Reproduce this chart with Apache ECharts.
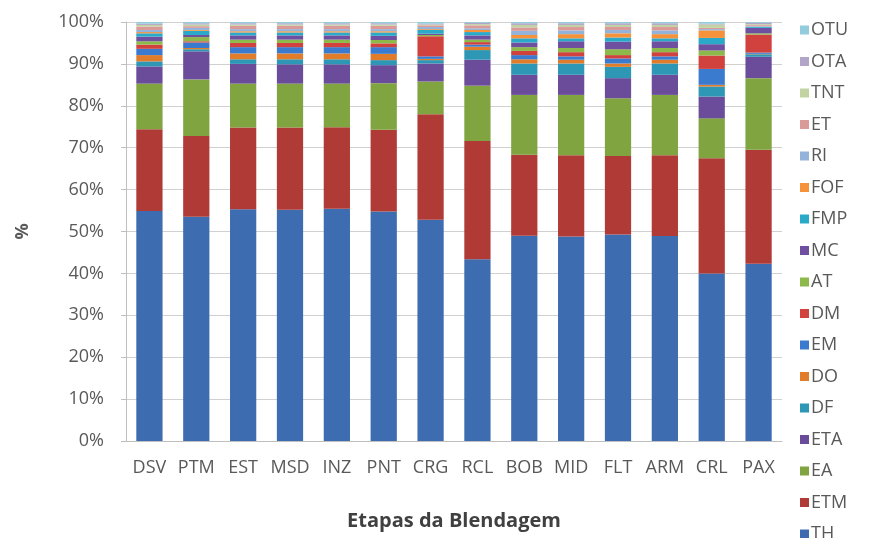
<!DOCTYPE html>
<html>
<head>
<meta charset="utf-8">
<script src="https://cdn.jsdelivr.net/npm/echarts@6/dist/echarts.min.js"></script>
<style>html,body{margin:0;padding:0;background:#fff}#c{width:876px;height:538px}</style>
</head>
<body>
<div id="c"></div>
<script>
const categories = ['DSV','PTM','EST','MSD','INZ','PNT','CRG','RCL','BOB','MID','FLT','ARM','CRL','PAX'];
const yTicks = [0,10,20,30,40,50,60,70,80,90,100];
// Series values in % (stack order bottom -> top)
const TH  = [54.9,53.5,55.3,55.2,55.4,54.8,52.8,43.4,49.0,48.8,49.3,48.9,40.0,42.3];
const ETM = [19.5,19.3,19.5,19.6,19.5,19.5,25.2,28.2,19.3,19.4,18.7,19.3,27.5,27.2];
const EA  = [10.9,13.5,10.5,10.5,10.4,11.1, 7.8,13.2,14.3,14.4,13.8,14.4, 9.5,17.1];
const ETA = [ 4.1, 6.7, 4.7, 4.6, 4.6, 4.3, 4.3, 6.2, 4.8, 4.8, 4.8, 4.8, 5.2, 5.1];
const DF  = [ 1.2, 0.5, 1.1, 1.2, 1.2, 1.2, 0.8, 2.3, 2.7, 2.7, 2.7, 2.7, 2.4, 0.6];
const DO  = [ 1.5, 0.3, 1.4, 1.4, 1.4, 1.5, 0.3, 0.8, 1.0, 0.9, 0.8, 0.9, 0.4, 0.1];
const EM  = [ 1.5, 1.3, 1.5, 1.5, 1.5, 1.6, 0.6, 0.5, 1.0, 0.8, 1.2, 0.8, 3.8, 0.3];
const DM  = [ 1.0, 0.3, 1.0, 1.0, 1.0, 0.9, 4.8, 0.6, 1.0, 1.0, 0.8, 1.0, 3.2, 4.3];
const AT  = [ 0.8, 1.0, 0.8, 0.8, 0.8, 0.8, 0.3, 0.6, 0.9, 1.0, 1.4, 1.0, 1.2, 0.3];
const MC  = [ 1.1, 0.5, 1.0, 1.0, 1.0, 1.0, 0.3, 1.0, 1.1, 1.6, 1.8, 1.6, 1.5, 1.3];
const FMP = [ 0.8, 1.0, 0.7, 0.7, 0.7, 0.8, 0.9, 0.8, 1.0, 0.7, 1.0, 0.7, 1.5, 0.2];
const FOF = [ 0.3, 0.2, 0.3, 0.3, 0.3, 0.3, 0.2, 0.5, 0.8, 1.0, 1.0, 1.0, 1.8, 0.1];
const RI  = [ 0.5, 0.5, 0.5, 0.5, 0.5, 0.5, 0.5, 0.4, 1.0, 0.9, 0.8, 0.9, 0.3, 0.2];
const ET  = [ 0.8, 0.4, 0.8, 0.8, 0.8, 0.8, 0.4, 0.7, 0.8, 0.8, 0.7, 0.8, 0.3, 0.2];
const TNT = [ 0.4, 0.4, 0.3, 0.3, 0.3, 0.3, 0.2, 0.3, 0.6, 0.5, 0.5, 0.5, 0.8, 0.2];
const OTA = [ 0.3, 0.3, 0.3, 0.3, 0.3, 0.3, 0.2, 0.3, 0.4, 0.4, 0.4, 0.4, 0.2, 0.3];
const OTU = [ 0.4, 0.3, 0.3, 0.3, 0.3, 0.3, 0.4, 0.2, 0.3, 0.3, 0.3, 0.3, 0.4, 0.2];

const seriesNames = ['TH','ETM','EA','ETA','DF','DO','EM','DM','AT','MC','FMP','FOF','RI','ET','TNT','OTA','OTU'];
const seriesData = [TH,ETM,EA,ETA,DF,DO,EM,DM,AT,MC,FMP,FOF,RI,ET,TNT,OTA,OTU];
const colors = ['#3D6DB0','#B03A36','#80A440','#6B4C9A','#2E97B5','#E07C2A','#3B7BCF','#D1423E',
                '#8DB84A','#6E4FA0','#2BA9C9','#F5923A','#94B3DA','#D99A98','#C2D3A3','#B3A5C8','#93CDDD'];

const FONT = 'Open Sans';
const chart = echarts.init(document.getElementById('c'), null, {renderer:'canvas'});
chart.setOption({
  animation: false,
  backgroundColor: '#fff',
  color: colors,
  grid: {left: 126, right: 94, top: 22, bottom: 97},
  legend: {
    orient: 'vertical', left: 795, top: 16, height: 600,
    data: seriesNames.slice().reverse(),
    icon: 'rect', itemWidth: 9, itemHeight: 9, itemGap: 13.5,
    textStyle: {fontFamily: FONT, fontSize: 18, color: '#595959', padding: [0,0,0,-3]}
  },
  xAxis: {
    type: 'category', data: categories,
    name: 'Etapas da Blendagem', nameLocation: 'middle', nameGap: 70,
    nameTextStyle: {fontFamily: FONT, fontSize: 20, fontWeight: 'bold', color: '#404040'},
    axisLine: {lineStyle: {color: '#BFBFBF', width: 1}},
    axisTick: {show: false},
    axisLabel: {fontFamily: FONT, fontSize: 18, color: '#595959', margin: 18, interval: 0}
  },
  yAxis: {
    type: 'value', min: yTicks[0], max: yTicks[yTicks.length-1], interval: 10,
    name: '%', nameLocation: 'middle', nameGap: 94, nameRotate: 90,
    nameTextStyle: {fontFamily: FONT, fontSize: 18, fontWeight: 'bold', color: '#595959'},
    axisLine: {show: true, lineStyle: {color: '#BFBFBF', width: 1}},
    axisTick: {show: true, inside: false, length: 5, lineStyle: {color: '#BFBFBF'}},
    splitLine: {lineStyle: {color: '#D0D0D0', width: 1}},
    axisLabel: {fontFamily: FONT, fontSize: 18, color: '#595959', margin: 22,
      formatter: v => v + '%'}
  },
  series: seriesNames.map((n, i) => ({
    name: n, type: 'bar', stack: 'total',
    barCategoryGap: '44%',
    data: seriesData[i],
    itemStyle: {color: colors[i]}
  }))
});
</script>
</body>
</html>
